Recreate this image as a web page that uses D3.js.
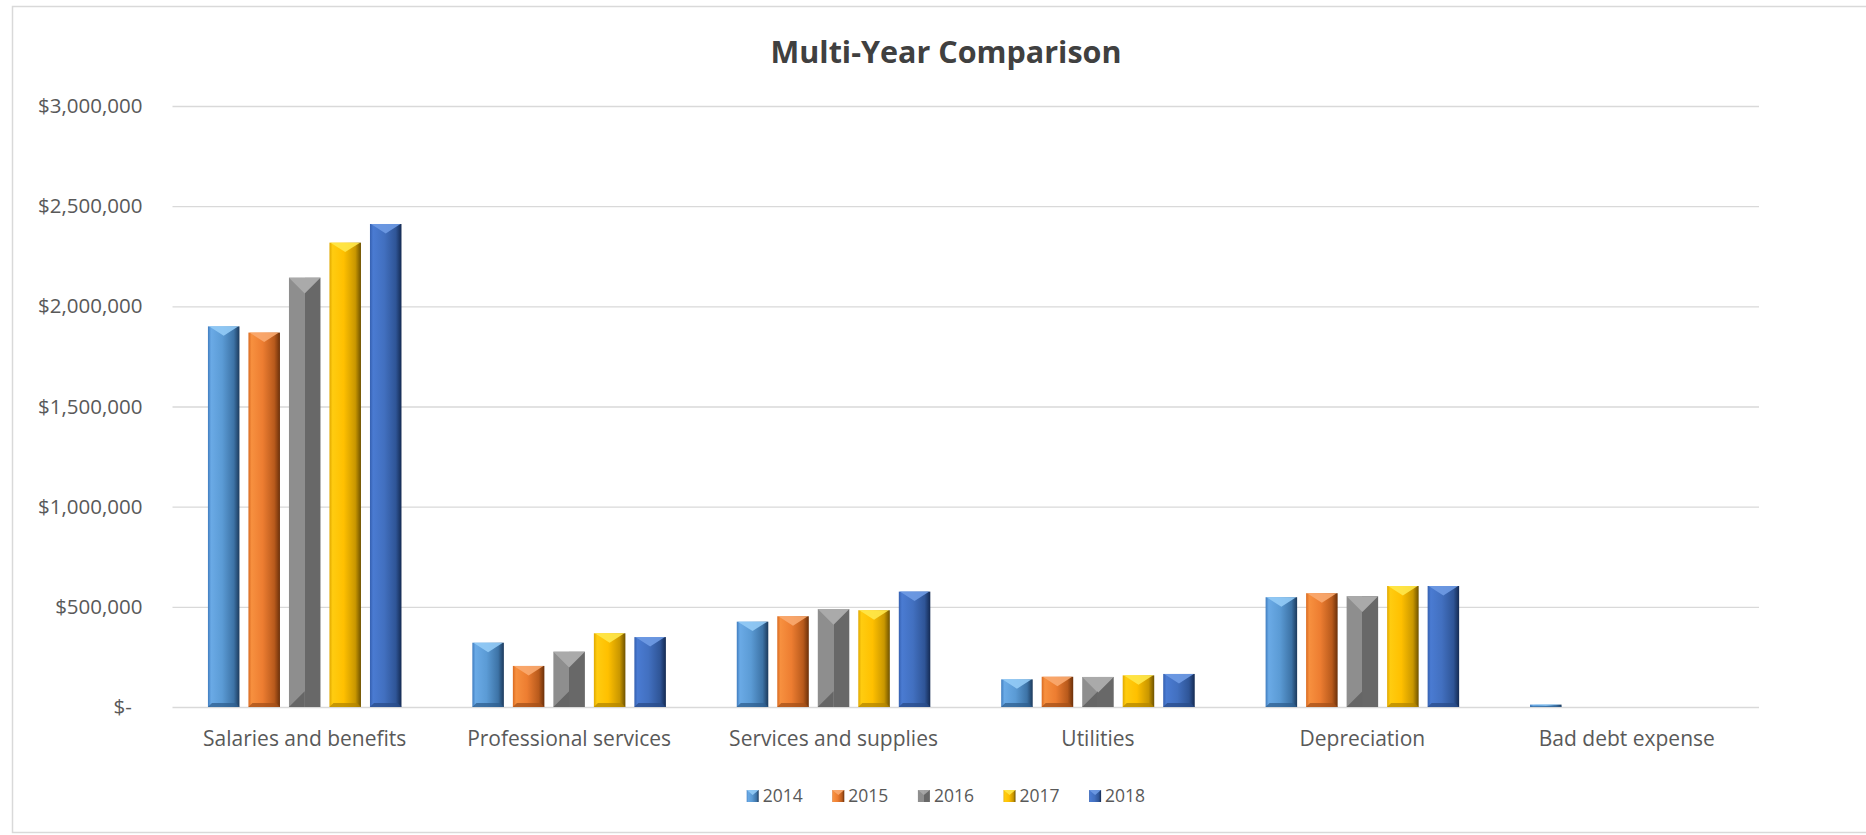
<!DOCTYPE html>
<html>
<head>
<meta charset="utf-8">
<script src="https://cdn.jsdelivr.net/npm/d3@7"></script>
<style>
  html, body { margin: 0; padding: 0; background: #ffffff; }
  svg { display: block; font-family: "Open Sans", "Noto Sans", sans-serif; }
</style>
</head>
<body>
<svg id="chart" width="1866" height="835"></svg>
<script>
// Expense categories and yearly totals
const categories = [
  "Salaries and benefits",
  "Professional services",
  "Services and supplies",
  "Utilities",
  "Depreciation",
  "Bad debt expense"
];
const years = ["2014", "2015", "2016", "2017", "2018"];

const values2014 = [1900000, 321000, 426000, 138000, 548000, 12000];
const values2015 = [1869000, 205000, 453000, 151000, 568000, 0];
const values2016 = [2143000, 276000, 489000, 150000, 553000, 0];
const values2017 = [2318000, 368000, 483000, 158000, 604000, 0];
const values2018 = [2411000, 349000, 576000, 165000, 604000, 0];

const yTickValues = [0, 500000, 1000000, 1500000, 2000000, 2500000, 3000000];

const seriesValues = {
  "2014": values2014,
  "2015": values2015,
  "2016": values2016,
  "2017": values2017,
  "2018": values2018
};

// Bevelled fill palette per series
const palette = {
  "2014": { stops: ["#3f7cbf", "#6aaae6", "#5b9bd5", "#3d73a6", "#1c3a5c"], top: "#93cbf6", bottom: "#2f5f8f" },
  "2015": { stops: ["#d96a20", "#f7903f", "#ed7d31", "#b85a1c", "#6b300a"], top: "#f9aa70", bottom: "#a4501a" },
  "2016": { flat: true, left: "#8e8e8e", right: "#686868", top: "#aaaaaa", bottom: "#666666" },
  "2017": { stops: ["#e0a800", "#ffcc10", "#ffc000", "#c99700", "#6e5200"], top: "#ffe84a", bottom: "#b38600" },
  "2018": { stops: ["#3560b0", "#4a7bd2", "#4270c0", "#2f5597", "#142a52"], top: "#6f9be4", bottom: "#2a4c8a" }
};

const svg = d3.select("#chart");
const W = 1866, H = 835;

// Chart frame
svg.append("rect")
  .attr("x", 12.5).attr("y", 6.5)
  .attr("width", W).attr("height", 826)
  .attr("fill", "#ffffff")
  .attr("stroke", "#d9d9d9")
  .attr("stroke-width", 1.5);

const plot = { left: 172.5, right: 1759, top: 106, bottom: 707 };

const x0 = d3.scaleBand()
  .domain(categories)
  .range([plot.left, plot.right])
  .padding(0);

const x1 = d3.scaleBand()
  .domain(years)
  .range([0, x0.bandwidth()])
  .paddingInner(0.222)
  .paddingOuter(0.875);

const y = d3.scaleLinear()
  .domain([0, 3000000])
  .range([plot.bottom, plot.top]);

// Gradients
const defs = svg.append("defs");
years.forEach(yr => {
  const p = palette[yr];
  const g = defs.append("linearGradient")
    .attr("id", "grad" + yr)
    .attr("x1", "0%").attr("x2", "100%").attr("y1", "0%").attr("y2", "0%");
  if (p.flat) {
    g.append("stop").attr("offset", "0%").attr("stop-color", p.left);
    g.append("stop").attr("offset", "50%").attr("stop-color", p.left);
    g.append("stop").attr("offset", "50%").attr("stop-color", p.right);
    g.append("stop").attr("offset", "100%").attr("stop-color", p.right);
  } else {
    const offs = [0, 0.1, 0.45, 0.82, 1];
    p.stops.forEach((c, i) => g.append("stop").attr("offset", offs[i]).attr("stop-color", c));
  }
});

// Y axis with gridlines
const yAxis = d3.axisLeft(y)
  .tickValues(yTickValues)
  .tickSizeInner(-(plot.right - plot.left))
  .tickSizeOuter(0)
  .tickPadding(30)
  .tickFormat(v => v === 0 ? "$-  " : "$" + d3.format(",")(v));

const yg = svg.append("g")
  .attr("transform", `translate(${plot.left},0)`)
  .call(yAxis);
yg.select(".domain").remove();
yg.selectAll(".tick line").attr("stroke", "#d9d9d9").attr("stroke-width", 1.3);
yg.selectAll(".tick text")
  .attr("fill", "#595959")
  .style("font-size", "20.5px")
  .style("white-space", "pre")
  .attr("font-family", "Open Sans");

// X axis labels
const xAxis = d3.axisBottom(x0).tickSize(0).tickPadding(24);
const xg = svg.append("g")
  .attr("transform", `translate(0,${plot.bottom})`)
  .call(xAxis);
xg.select(".domain").remove();
xg.selectAll(".tick text")
  .attr("fill", "#595959")
  .style("font-size", "21px")
  .attr("font-family", "Open Sans");

// Bars
const groups = svg.append("g").selectAll("g")
  .data(categories)
  .join("g")
  .attr("transform", d => `translate(${x0(d)},0)`);

const bars = groups.selectAll("g.bar")
  .data((cat, ci) => years.map(yr => ({ cat, yr, value: seriesValues[yr][ci] })))
  .join("g")
  .attr("class", "bar")
  .filter(d => d.value > 0);

bars.each(function(d) {
  const g = d3.select(this);
  const p = palette[d.yr];
  const bx = x1(d.yr), bw = x1.bandwidth();
  const top = y(d.value), bottom = y(0);
  const h = bottom - top;

  g.append("rect")
    .attr("x", bx).attr("y", top)
    .attr("width", bw).attr("height", h)
    .attr("fill", `url(#grad${d.yr})`);

  if (p.flat) {
    const dTop = Math.min(bw / 2, h);
    g.append("path")
      .attr("d", `M${bx},${top}L${bx + bw},${top}L${bx + bw / 2},${top + dTop}Z`)
      .attr("fill", p.top);
    const dBot = Math.min(bw / 2, h);
    g.append("path")
      .attr("d", `M${bx},${bottom}L${bx + bw / 2},${bottom - dBot}L${bx + bw / 2},${bottom}Z`)
      .attr("fill", p.bottom);
  } else {
    const dTop = Math.min(bw * 0.3, h * 0.5);
    g.append("path")
      .attr("d", `M${bx + 1},${top}L${bx + bw - 1},${top}L${bx + bw / 2},${top + dTop}Z`)
      .attr("fill", p.top)
      .attr("opacity", 0.9);
    const dBot = Math.min(4, h * 0.3);
    g.append("path")
      .attr("d", `M${bx},${bottom}L${bx + bw},${bottom}L${bx + bw - dBot},${bottom - dBot}L${bx + dBot},${bottom - dBot}Z`)
      .attr("fill", p.bottom)
      .attr("opacity", 0.75);
  }
});

// Title
svg.append("text")
  .attr("x", 946)
  .attr("y", 63)
  .attr("text-anchor", "middle")
  .attr("fill", "#404040")
  .style("font-size", "30.5px")
  .style("font-weight", "bold")
  .text("Multi-Year Comparison");

// Legend
const legend = svg.append("g").attr("transform", "translate(746.7,796)");
const lx = d3.scalePoint().domain(years).range([0, 342.4]);
const items = legend.selectAll("g")
  .data(years)
  .join("g")
  .attr("transform", d => `translate(${lx(d)},0)`);
items.append("rect")
  .attr("x", 0).attr("y", -6)
  .attr("width", 12).attr("height", 12)
  .attr("fill", d => `url(#grad${d})`);
items.append("path")
  .attr("d", "M0,-6L12,-6L6,-1Z")
  .attr("fill", d => palette[d].top)
  .attr("opacity", 0.9);
items.append("text")
  .attr("x", 16)
  .attr("y", 0)
  .attr("dy", "0.36em")
  .attr("fill", "#595959")
  .style("font-size", "17.5px")
  .text(d => d);
</script>
</body>
</html>
